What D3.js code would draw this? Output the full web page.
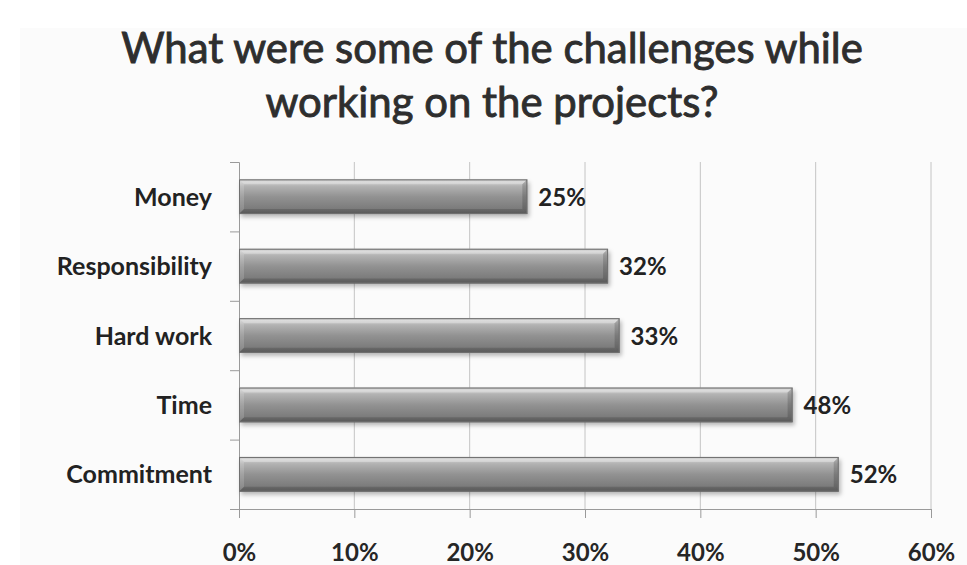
<!DOCTYPE html>
<html>
<head>
<meta charset="utf-8">
<script src="https://cdn.jsdelivr.net/npm/d3@7/dist/d3.min.js"></script>
<style>
  html, body { margin: 0; padding: 0; background: #ffffff; }
  svg { display: block; }
  text { font-family: Lato, "Open Sans", sans-serif; }
</style>
</head>
<body>
<svg id="chart" width="967" height="565"></svg>
<script>
// Survey answers: share of respondents naming each challenge
const categories = ["Money", "Responsibility", "Hard work", "Time", "Commitment"];
const shares = [0.25, 0.32, 0.33, 0.48, 0.52];
const valueLabels = ["25%", "32%", "33%", "48%", "52%"];
const xTicks = [0, 0.1, 0.2, 0.3, 0.4, 0.5, 0.6];
const xTickLabels = ["0%", "10%", "20%", "30%", "40%", "50%", "60%"];
const titleLines = ["What were some of the challenges while", "working on the projects?"];

const svg = d3.select("#chart");
const W = 967, H = 565;
const plot = { left: 239, right: 931, top: 162, bottom: 509 };

// faint chart-area panel
svg.append("rect")
  .attr("x", 20).attr("y", 28)
  .attr("width", W - 20).attr("height", H - 28)
  .attr("fill", "#fbfbfb");

// title, sized so the first line spans the chart width
const titleG = svg.append("g");
const titleText = titleG.selectAll("text")
  .data(titleLines)
  .join("text")
  .attr("x", 492)
  .attr("y", (d, i) => 63 + i * 54)
  .attr("text-anchor", "middle")
  .attr("font-size", 42)
  .attr("font-weight", 400)
  .attr("fill", "#2e2e2e")
  .style("stroke", "#2e2e2e")
  .style("stroke-width", 0.9)
  .text(d => d);
const firstWidth = titleText.nodes()[0].getComputedTextLength();
titleText.attr("font-size", 42 * 742 / firstWidth);

const x = d3.scaleLinear().domain([0, 0.6]).range([plot.left, plot.right]);
const y = d3.scaleBand().domain(categories).range([plot.top, plot.bottom])
  .paddingInner(0.5).paddingOuter(0.25);
const yEdges = d3.scaleLinear().domain([0, categories.length]).range([plot.top, plot.bottom]);

// vertical gridlines
svg.append("g")
  .selectAll("line")
  .data(xTicks.slice(1))
  .join("line")
  .attr("x1", d => x(d)).attr("x2", d => x(d))
  .attr("y1", plot.top).attr("y2", plot.bottom)
  .attr("stroke", "#c4c4c4")
  .attr("stroke-width", 1);

// x axis
const xAxis = svg.append("g")
  .attr("transform", `translate(0,${plot.bottom})`)
  .call(d3.axisBottom(x).tickValues(xTicks).tickSize(9)
    .tickFormat((d, i) => xTickLabels[i]));
xAxis.select(".domain").attr("stroke", "#9a9a9a");
xAxis.selectAll(".tick line").attr("stroke", "#9a9a9a");
xAxis.selectAll(".tick text")
  .attr("y", 52).attr("dy", 0)
  .attr("font-size", 24)
  .attr("font-weight", 700)
  .attr("fill", "#262626")
  .style("font-family", "Lato, 'Open Sans', sans-serif");

// y axis: tick marks at the band edges
const yAxis = svg.append("g")
  .attr("transform", `translate(${plot.left},0)`)
  .call(d3.axisLeft(yEdges).tickValues(d3.range(categories.length + 1))
    .tickSize(9).tickFormat(""));
yAxis.select(".domain").attr("stroke", "#9a9a9a");
yAxis.selectAll(".tick line").attr("stroke", "#9a9a9a");

// category labels
svg.append("g").selectAll("text")
  .data(categories)
  .join("text")
  .attr("x", 212)
  .attr("y", d => y(d) + y.bandwidth() / 2 + 9)
  .attr("text-anchor", "end")
  .attr("font-size", 25)
  .attr("font-weight", 700)
  .attr("fill", "#222222")
  .text(d => d);

// bar gradient and shadow
const defs = svg.append("defs");
const grad = defs.append("linearGradient")
  .attr("id", "barFill").attr("x1", 0).attr("y1", 0).attr("x2", 0).attr("y2", 1);
[[0, "#a0a0a0"], [0.07, "#cecece"], [0.2, "#b2b2b2"], [0.5, "#929292"],
 [0.85, "#7b7b7b"], [1, "#666666"]]
  .forEach(([o, c]) => grad.append("stop").attr("offset", o).attr("stop-color", c));
const blur = defs.append("filter").attr("id", "soft")
  .attr("x", "-10%").attr("y", "-50%").attr("width", "120%").attr("height", "200%");
blur.append("feGaussianBlur").attr("stdDeviation", 2.2);

const rows = categories.map((c, i) => ({ cat: c, v: shares[i], label: valueLabels[i] }));
const bars = svg.append("g").selectAll("g").data(rows).join("g");

bars.append("rect")
  .attr("x", x(0) + 2)
  .attr("y", d => y(d.cat) + 3)
  .attr("width", d => x(d.v) - x(0))
  .attr("height", y.bandwidth())
  .attr("fill", "rgba(0,0,0,0.28)")
  .attr("filter", "url(#soft)");

bars.append("rect")
  .attr("x", x(0))
  .attr("y", d => y(d.cat))
  .attr("width", d => x(d.v) - x(0))
  .attr("height", y.bandwidth())
  .attr("fill", "url(#barFill)");

// bevelled edges
const b = 5;
const bevel = (d, side) => {
  const x0 = x(0), x1 = x(d.v), y0 = y(d.cat), y1 = y(d.cat) + y.bandwidth();
  const pts = {
    top: [[x0, y0], [x1, y0], [x1 - b, y0 + b], [x0 + b, y0 + b]],
    left: [[x0, y0], [x0 + b, y0 + b], [x0 + b, y1 - b], [x0, y1]],
    right: [[x1, y0], [x1, y1], [x1 - b, y1 - b], [x1 - b, y0 + b]],
    bottom: [[x0, y1], [x0 + b, y1 - b], [x1 - b, y1 - b], [x1, y1]]
  }[side];
  return "M" + pts.map(p => p.join(",")).join("L") + "Z";
};
[["top", "rgba(255,255,255,0.30)"], ["left", "rgba(255,255,255,0.15)"],
 ["right", "rgba(0,0,0,0.16)"], ["bottom", "rgba(0,0,0,0.14)"]]
  .forEach(([side, fill]) => bars.append("path").attr("d", d => bevel(d, side)).attr("fill", fill));

bars.append("rect")
  .attr("x", x(0) + 0.5)
  .attr("y", d => y(d.cat) + 0.5)
  .attr("width", d => x(d.v) - x(0) - 1)
  .attr("height", y.bandwidth() - 1)
  .attr("fill", "none")
  .attr("stroke", "#707070")
  .attr("stroke-width", 1);

// value labels
bars.append("text")
  .attr("x", d => x(d.v) + 11)
  .attr("y", d => y(d.cat) + y.bandwidth() / 2 + 9)
  .attr("font-size", 24)
  .attr("font-weight", 700)
  .attr("fill", "#222222")
  .text(d => d.label);
</script>
</body>
</html>
